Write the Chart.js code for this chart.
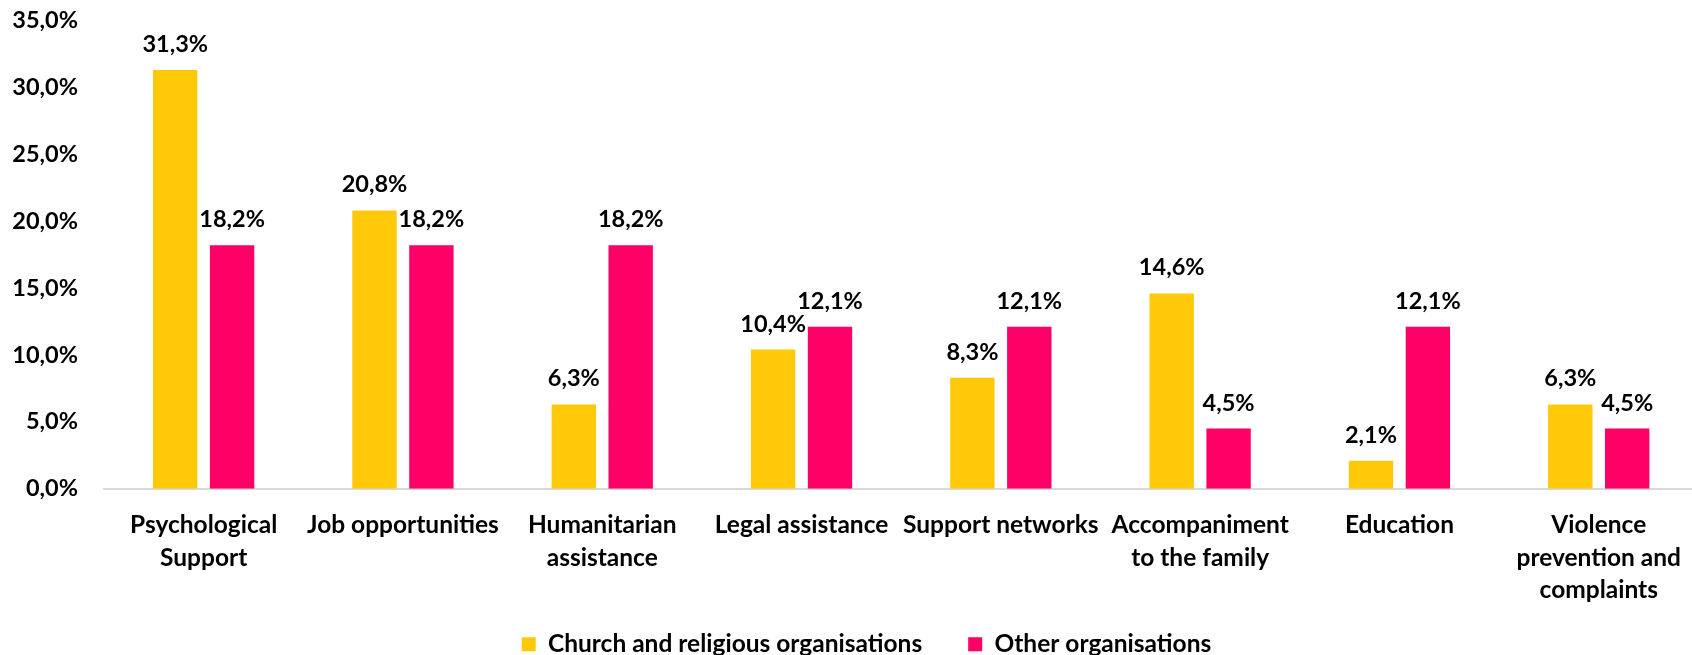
<!DOCTYPE html>
<html>
<head>
<meta charset="utf-8">
<script src="https://cdn.jsdelivr.net/npm/chart.js@4/dist/chart.umd.min.js"></script>
<style>
  html, body { margin: 0; padding: 0; background: #fff; overflow: hidden; }
  canvas { display: block; }
</style>
</head>
<body>
<canvas id="c" width="1701" height="707"></canvas>
<script>
const categories = [
  ['Psychological', 'Support'],
  'Job opportunities',
  ['Humanitarian', 'assistance'],
  'Legal assistance',
  'Support networks',
  ['Accompaniment', 'to the family'],
  'Education',
  ['Violence', 'prevention and', 'complaints']
];
const seriesNames = ['Church and religious organisations', 'Other organisations'];
const churchValues = [31.3, 20.8, 6.3, 10.4, 8.3, 14.6, 2.1, 6.3];
const otherValues = [18.2, 18.2, 18.2, 12.1, 12.1, 4.5, 12.1, 4.5];
const yTicks = [0, 5, 10, 15, 20, 25, 30, 35];

const FONT = 'Lato';
const fmt = v => v.toFixed(1).replace('.', ',') + '%';

const dataLabels = {
  id: 'dataLabels',
  afterDatasetsDraw(chart) {
    const ctx = chart.ctx;
    ctx.save();
    ctx.font = 'bold 23.5px ' + FONT;
    ctx.fillStyle = '#000';
    ctx.textAlign = 'center';
    ctx.textBaseline = 'alphabetic';
    chart.data.datasets.forEach((ds, i) => {
      const meta = chart.getDatasetMeta(i);
      meta.data.forEach((bar, j) => {
        ctx.fillText(fmt(ds.data[j]), bar.x, bar.y - 18);
      });
    });
    ctx.restore();
  }
};

const legendPlace = {
  id: 'legendPlace',
  afterLayout(chart) {
    const lg = chart.legend;
    if (lg) {
      const h = lg.bottom - lg.top;
      lg.left += 16; lg.right += 16;
      lg.top = 586; lg.bottom = 586 + h;
    }
  }
};

new Chart(document.getElementById('c'), {
  type: 'bar',
  data: {
    labels: categories,
    datasets: [
      { label: seriesNames[0], data: churchValues, backgroundColor: '#FFC90A', borderWidth: 0,
        categoryPercentage: 0.571, barPercentage: 0.78 },
      { label: seriesNames[1], data: otherValues, backgroundColor: '#FF0066', borderWidth: 0,
        categoryPercentage: 0.571, barPercentage: 0.78 }
    ]
  },
  options: {
    responsive: false,
    animation: false,
    layout: { padding: { top: 0, left: 0, right: 0, bottom: 0 } },
    plugins: {
      legend: {
        position: 'bottom',
        labels: {
          boxWidth: 14, boxHeight: 14, padding: 46,
          color: '#000',
          font: { family: FONT, size: 24.5, weight: 'bold' }
        }
      },
      tooltip: { enabled: false }
    },
    scales: {
      x: {
        grid: { display: false, drawTicks: false },
        border: { display: true, color: '#d9d9d9', width: 2 },
        ticks: {
          autoSkip: false, maxRotation: 0, minRotation: 0, padding: 20,
          color: '#000',
          font: { family: FONT, size: 24.5, weight: 'bold', lineHeight: 1.33 }
        }
      },
      y: {
        min: 0, max: 35,
        afterBuildTicks(scale) { scale.ticks = yTicks.map(v => ({ value: v })); },
        afterFit(scale) {
          scale.width = 104;
          scale.paddingTop = 20.5;
          scale.paddingBottom = 14;
        },
        grid: { display: false, drawTicks: false },
        border: { display: false },
        ticks: {
          padding: 26,
          color: '#000',
          font: { family: FONT, size: 23.5, weight: 'bold' },
          callback: v => fmt(v)
        }
      }
    }
  },
  plugins: [dataLabels, legendPlace]
});
</script>
</body>
</html>
